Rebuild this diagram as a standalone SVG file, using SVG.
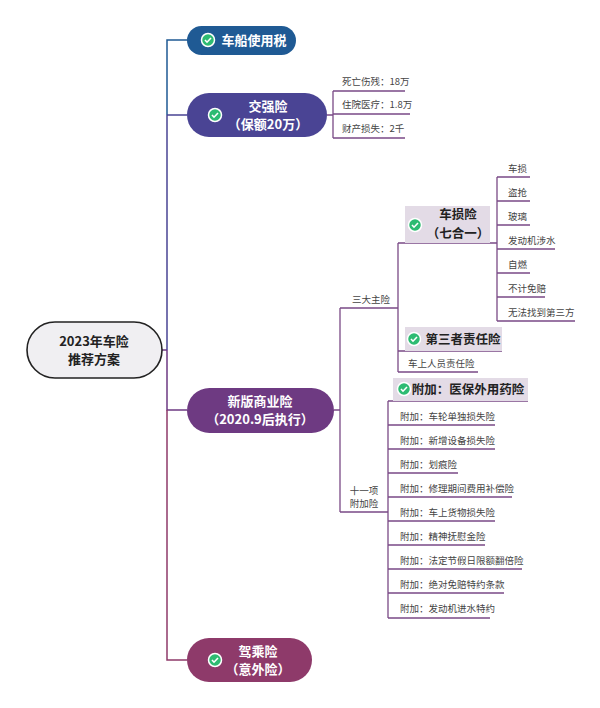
<svg xmlns="http://www.w3.org/2000/svg" width="600" height="708" viewBox="0 0 600 708">
<style>
.t{font-family:"Noto Sans CJK SC","Liberation Sans",sans-serif}
.w{fill:#fff;font-weight:bold;font-size:13px;text-anchor:middle}
.s{fill:#444;font-size:9.5px}
.b{fill:#222;font-weight:bold;font-size:12.5px;text-anchor:middle}
.l{fill:none;stroke:#7a4a86;stroke-width:1.3}
</style>
<defs>
<g id="ck"><circle r="6.5" fill="#2dbb72" stroke="#fff" stroke-width="1.5"/><path d="M-3,0 L-1,2.2 L3,-2" fill="none" stroke="#fff" stroke-width="1.6"/></g>
</defs>
<rect width="600" height="708" fill="#fff"/>
<g id="connectors" fill="none" stroke-width="1.5">
<path d="M162,350 H167" stroke="#6e3a82"/>
<path d="M187,40 H167 V115" stroke="#1f5a94"/>
<path d="M167,115 V350 M167,115 H187" stroke="#4a4494"/>
<path d="M167,350 V410 H187" stroke="#6e3a82"/>
<path d="M167,410 V660 H187" stroke="#8e3a6a"/>
<path class="l" d="M327,115 H333 M333,91 V138 M333,91 H405 M333,114 H410 M333,138 H405"/>
<path class="l" d="M334,410 H340 M340,308 V512 M340,308 H398 M340,512 H388"/>
<path class="l" d="M398,243 V372 M398,243 H497 M398,351 H502 M398,372 H478"/>
<path class="l" d="M497,177 V321 M497,177 H530 M497,201 H530 M497,225 H530 M497,249 H555 M497,273 H530 M497,297 H545 M497,321 H575"/>
<path class="l" d="M388,401 V618 M388,401 H528 M388,425 H495 M388,449 H495 M388,473 H458 M388,497 H512 M388,521 H495 M388,545 H485 M388,569 H522 M388,593 H504 M388,618 H490"/>
</g>
<g id="root"><rect x="27" y="322" width="135" height="56" rx="28" fill="#f0eff2" stroke="#222" stroke-width="1.6"/>
<text class="t b" x="94" y="346" style="font-size:13px">2023年车险</text><text class="t b" x="94" y="364" style="font-size:13px">推荐方案</text></g>
<g id="n1"><rect x="187" y="26" width="109" height="29" rx="14.5" fill="#1f5a94"/><use href="#ck" x="208" y="40"/><text class="t w" x="254" y="45">车船使用税</text></g>
<g id="n2"><rect x="187" y="93" width="140" height="44" rx="22" fill="#4a4494"/><use href="#ck" x="215" y="115"/><text class="t w" x="268" y="111">交强险</text><text class="t w" x="268" y="129">（保额20万）</text></g>
<g id="n2c"><text class="t s" x="342" y="85">死亡伤残：18万</text><text class="t s" x="342" y="108">住院医疗：1.8万</text><text class="t s" x="342" y="132">财产损失：2千</text></g>
<g id="n3"><rect x="187" y="388" width="147" height="45" rx="22.5" fill="#6e3a82"/><text class="t w" x="260" y="406">新版商业险</text><text class="t w" x="260" y="424">（2020.9后执行）</text></g>
<g id="n4"><rect x="187" y="638" width="125" height="44" rx="22" fill="#8e3a6a"/><use href="#ck" x="215" y="660"/><text class="t w" x="258" y="656">驾乘险</text><text class="t w" x="258" y="674">（意外险）</text></g>
<g id="g1"><text class="t s" x="352" y="303">三大主险</text>
<rect x="405" y="206" width="85" height="37" fill="#e3dbe6"/><use href="#ck" x="415" y="225"/><text class="t b" x="458" y="219">车损险</text><text class="t b" x="458" y="238">（七合一）</text>
<rect x="405" y="327" width="97" height="24" fill="#e3dbe6"/><use href="#ck" x="414" y="339"/><text class="t b" x="463" y="344">第三者责任险</text>
<text class="t s" x="408" y="367">车上人员责任险</text></g>
<g id="g2"><text class="t s" x="508" y="172">车损</text><text class="t s" x="508" y="196">盗抢</text><text class="t s" x="508" y="220">玻璃</text><text class="t s" x="508" y="244">发动机涉水</text><text class="t s" x="508" y="268">自燃</text><text class="t s" x="508" y="292">不计免赔</text><text class="t s" x="508" y="316">无法找到第三方</text></g>
<g id="g3"><text class="t s" x="364" y="494" text-anchor="middle">十一项</text><text class="t s" x="364" y="507" text-anchor="middle">附加险</text>
<rect x="393" y="378" width="135" height="23" fill="#e3dbe6"/><use href="#ck" x="404" y="389"/><text class="t b" x="468" y="394">附加：医保外用药险</text>
<text class="t s" x="400" y="420">附加：车轮单独损失险</text><text class="t s" x="400" y="444">附加：新增设备损失险</text><text class="t s" x="400" y="468">附加：划痕险</text><text class="t s" x="400" y="492">附加：修理期间费用补偿险</text><text class="t s" x="400" y="516">附加：车上货物损失险</text><text class="t s" x="400" y="540">附加：精神抚慰金险</text><text class="t s" x="400" y="564">附加：法定节假日限额翻倍险</text><text class="t s" x="400" y="588">附加：绝对免赔特约条款</text><text class="t s" x="400" y="612">附加：发动机进水特约</text></g>
</svg>
